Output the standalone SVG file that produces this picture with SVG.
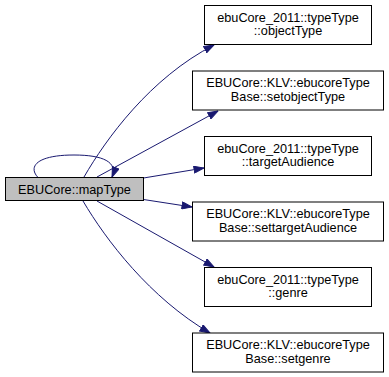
<svg xmlns="http://www.w3.org/2000/svg" width="389" height="377" viewBox="0 0 389 377">
  <style>
    .node rect { fill: #ffffff; stroke: #000000; stroke-width: 1; }
    .node.root rect { fill: #bfbfbf; }
    .node text { font-family: "Liberation Sans", Arial, Helvetica, sans-serif; font-size: 12.7px; fill: #000000; text-anchor: middle; }
    .edge { fill: none; stroke: #191970; stroke-width: 1; marker-end: url(#arrow); }
  </style>
  <defs>
    <marker id="arrow" markerUnits="userSpaceOnUse" markerWidth="11" markerHeight="8" refX="10.5" refY="4" orient="auto">
      <path d="M0.5,0.5 L10.5,4 L0.5,7.5 z" fill="#191970" stroke="#191970" stroke-width="1"/>
    </marker>
  </defs>
  <rect width="389" height="377" fill="#ffffff"/>

  <g id="edges">
    <!-- recursive call -->
    <path class="edge" d="M38,177.5 C28,167 36,155 74,155 C103,155 118,162 112,177"/>
    <path class="edge" d="M84,177 C106,139 150,78 214,45"/>
    <path class="edge" d="M97,177 L218,111"/>
    <path class="edge" d="M143.5,178 L204,168"/>
    <path class="edge" d="M143.5,199.5 L192,207"/>
    <path class="edge" d="M97,201 L214,267"/>
    <path class="edge" d="M83,201 C106,240 150,298 210,333"/>
  </g>

  <g id="node-maptype" class="node root">
    <rect x="5.5" y="177.5" width="138" height="23"/>
    <text x="74.5" y="193.5">EBUCore::mapType</text>
  </g>

  <g id="node-objecttype" class="node">
    <rect x="204.5" y="5.5" width="167" height="39"/>
    <text x="288" y="21.5">ebuCore_2011::typeType</text>
    <text x="288" y="35">::objectType</text>
  </g>

  <g id="node-setobjecttype" class="node">
    <rect x="192.5" y="71" width="191" height="39"/>
    <text x="288" y="87">EBUCore::KLV::ebucoreType</text>
    <text x="288" y="100.5">Base::setobjectType</text>
  </g>

  <g id="node-targetaudience" class="node">
    <rect x="204.5" y="136.5" width="167" height="39"/>
    <text x="288" y="152.5">ebuCore_2011::typeType</text>
    <text x="288" y="166">::targetAudience</text>
  </g>

  <g id="node-settargetaudience" class="node">
    <rect x="192.5" y="202" width="191" height="39"/>
    <text x="288" y="218">EBUCore::KLV::ebucoreType</text>
    <text x="288" y="231.5">Base::settargetAudience</text>
  </g>

  <g id="node-genre" class="node">
    <rect x="204.5" y="267.5" width="167" height="39"/>
    <text x="288" y="283.5">ebuCore_2011::typeType</text>
    <text x="288" y="297">::genre</text>
  </g>

  <g id="node-setgenre" class="node">
    <rect x="192.5" y="333" width="191" height="39"/>
    <text x="288" y="349">EBUCore::KLV::ebucoreType</text>
    <text x="288" y="362.5">Base::setgenre</text>
  </g>
</svg>
